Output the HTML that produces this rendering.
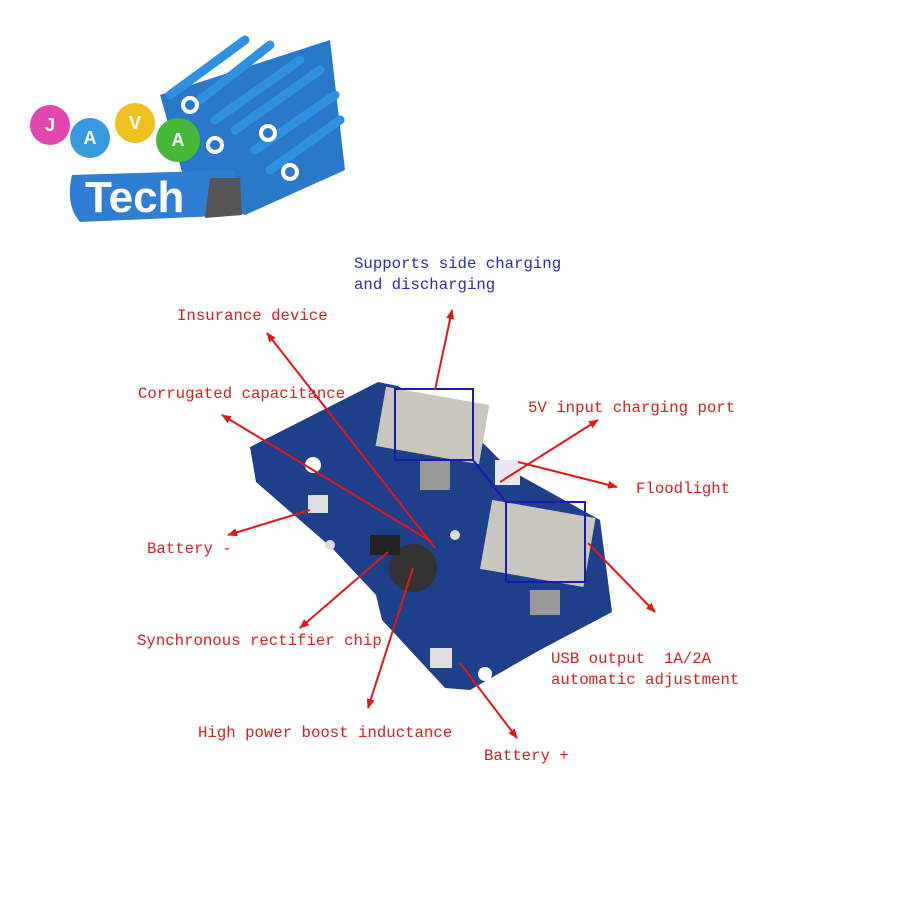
<!DOCTYPE html>
<html><head><meta charset="utf-8"><style>
html,body{margin:0;padding:0;background:#fff}
body{width:900px;height:900px;position:relative;overflow:hidden}
.t{position:absolute;font-family:"Liberation Mono",monospace;font-size:15.7px;color:#d42020;white-space:pre;line-height:21px}
.b{color:#2a2ab8}
</style></head><body>
<svg width="900" height="900" style="position:absolute;left:0;top:0">
<defs>
<marker id="a" markerWidth="10" markerHeight="10" refX="9" refY="5" orient="auto" markerUnits="userSpaceOnUse"><path d="M0,1 L10,5 L0,9 z" fill="#e01818"/></marker>
</defs>
<g>
<path d="M160,95 L330,40 L345,170 L245,215 L190,200 Z" fill="#2a78c8"/>
<g stroke="#2f8fe0" stroke-width="9" stroke-linecap="round">
<line x1="170" y1="95" x2="245" y2="40"/><line x1="200" y1="100" x2="270" y2="45"/>
<line x1="215" y1="120" x2="300" y2="60"/><line x1="235" y1="130" x2="320" y2="70"/>
<line x1="255" y1="150" x2="335" y2="95"/><line x1="270" y1="170" x2="340" y2="120"/>
</g>
<g fill="#2a78c8" stroke="#fff" stroke-width="4"><circle cx="190" cy="105" r="7"/><circle cx="268" cy="133" r="7"/><circle cx="290" cy="172" r="7"/><circle cx="215" cy="145" r="7"/></g>
<path d="M72,175 L235,170 L240,215 L80,222 Q65,205 72,175Z" fill="#2f7ed4"/>
<path d="M210,178 L240,178 L242,215 L205,218Z" fill="#555"/>
<text x="85" y="212" font-family="Liberation Sans,sans-serif" font-weight="bold" font-size="44" fill="#fff">Tech</text>
<circle cx="50" cy="125" r="20" fill="#e048b0"/><circle cx="90" cy="138" r="20" fill="#3a9ae0"/>
<circle cx="135" cy="123" r="20" fill="#f0c020"/><circle cx="178" cy="140" r="22" fill="#48b838"/>
<g font-family="Liberation Sans,sans-serif" font-weight="bold" font-size="18" fill="#fff" text-anchor="middle">
<text x="50" y="131">J</text><text x="90" y="144">A</text><text x="135" y="129">V</text><text x="178" y="146">A</text></g>
</g>
<path d="M250,447 L378,382 L398,386 L480,440 L510,470 L600,520 L612,612 L540,650 L470,690 L445,688 L382,620 L376,595 L332,548 L256,482 Z" fill="#1e3f8a"/>
<rect x="380" y="395" width="105" height="60" fill="#c8c8c0" transform="rotate(10 430 425)"/>
<rect x="485" y="508" width="105" height="70" fill="#c8c8c0" transform="rotate(10 535 545)"/>
<rect x="420" y="460" width="30" height="30" fill="#999"/><rect x="530" y="590" width="30" height="25" fill="#999"/>
<circle cx="413" cy="568" r="24" fill="#333"/>
<rect x="370" y="535" width="30" height="20" fill="#222"/>
<rect x="308" y="495" width="20" height="18" fill="#ddd"/><rect x="430" y="648" width="22" height="20" fill="#ddd"/>
<circle cx="313" cy="465" r="8" fill="#fff"/><circle cx="330" cy="545" r="5" fill="#ddd"/>
<circle cx="455" cy="535" r="5" fill="#ddd"/><circle cx="485" cy="674" r="7" fill="#fff"/>
<rect x="495" y="460" width="25" height="25" fill="#e8e8ee"/>
<g fill="none" stroke="#1a1ab0" stroke-width="2">
<rect x="395" y="389" width="78" height="71"/><rect x="506" y="502" width="79" height="80"/>
<line x1="473" y1="460" x2="506" y2="502"/></g>
<g stroke="#e01818" stroke-width="2" marker-end="url(#a)">
<line x1="435" y1="390" x2="452" y2="310"/>
<line x1="435" y1="548" x2="267" y2="333"/>
<line x1="432" y1="542" x2="222" y2="415"/>
<line x1="310" y1="510" x2="228" y2="535"/>
<line x1="500" y1="482" x2="598" y2="420"/>
<line x1="518" y1="462" x2="617" y2="487"/>
<line x1="588" y1="543" x2="655" y2="612"/>
<line x1="460" y1="663" x2="517" y2="738"/>
<line x1="388" y1="552" x2="300" y2="628"/>
<line x1="413" y1="568" x2="368" y2="708"/>
</g>
</svg>
<div class="t b" style="left:354px;top:254px">Supports side charging
and discharging</div>
<div class="t" style="left:177px;top:306px">Insurance device</div>
<div class="t" style="left:138px;top:384px">Corrugated capacitance</div>
<div class="t" style="left:528px;top:398px">5V input charging port</div>
<div class="t" style="left:636px;top:479px">Floodlight</div>
<div class="t" style="left:147px;top:539px">Battery -</div>
<div class="t" style="left:137px;top:631px">Synchronous rectifier chip</div>
<div class="t" style="left:551px;top:649px">USB output  1A/2A
automatic adjustment</div>
<div class="t" style="left:198px;top:723px">High power boost inductance</div>
<div class="t" style="left:484px;top:746px">Battery +</div>
</body></html>
